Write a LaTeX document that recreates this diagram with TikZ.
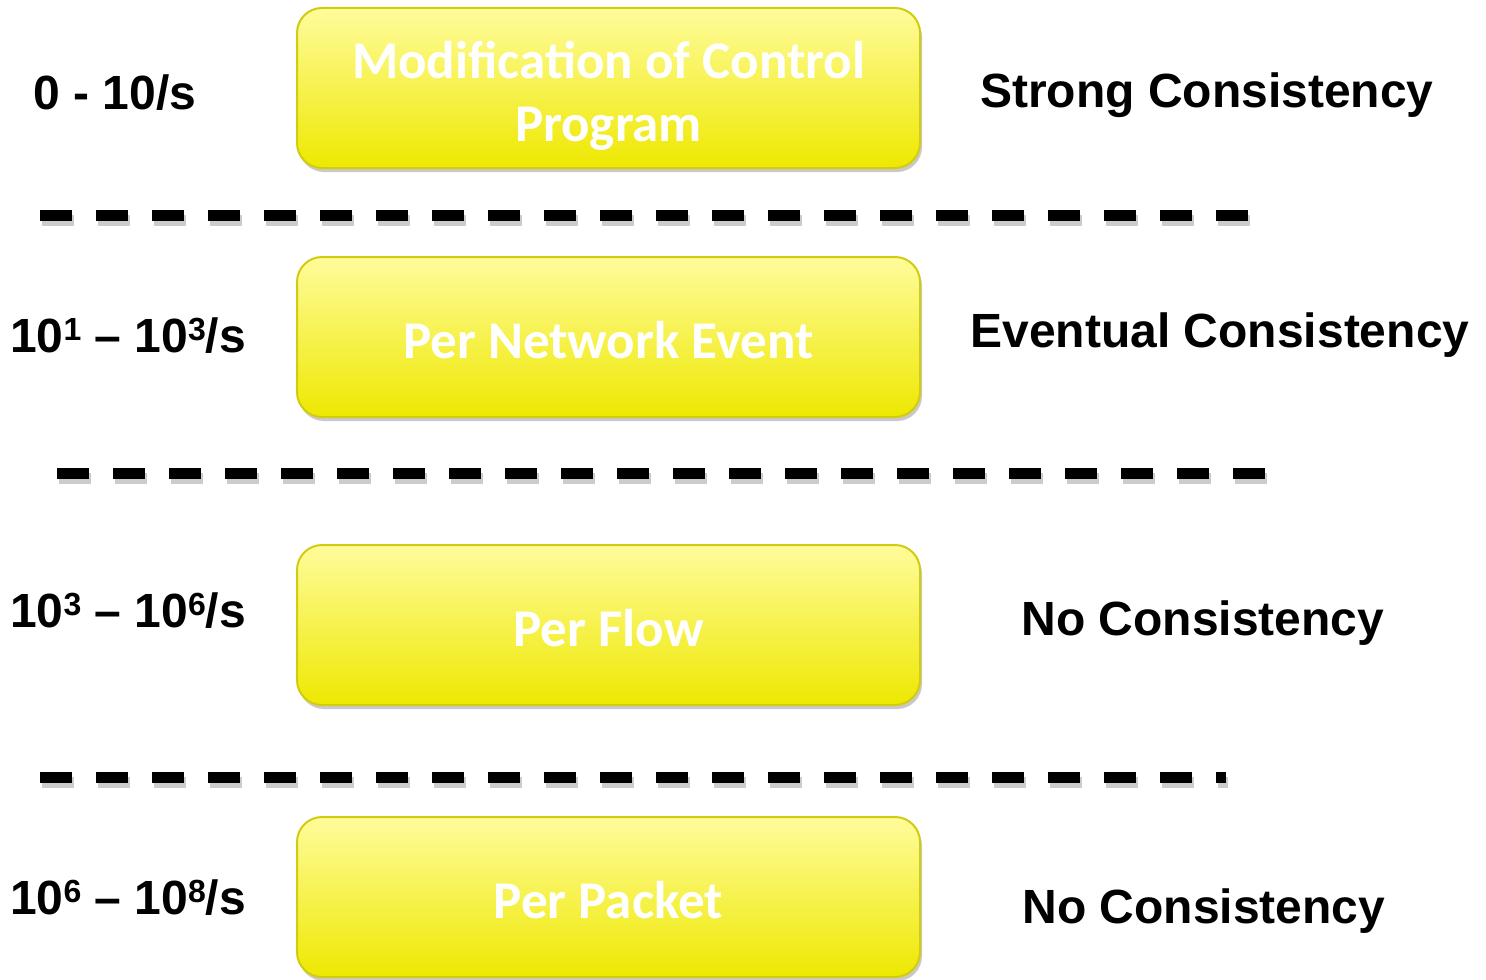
\documentclass[tikz,border=0pt]{standalone}
\usepackage{fontspec}
\setmainfont{Liberation Sans}
\newfontfamily\boxfont{Carlito}
\usetikzlibrary{shadows}
\definecolor{boxtop}{HTML}{FFFC9C}
\definecolor{boxbot}{HTML}{EEE800}
\definecolor{boxedge}{HTML}{D2CC10}
\newcommand\supx[1]{\raisebox{6pt}{\fontsize{16}{16}\selectfont #1}}
\tikzset{
  ybox/.style={rounded corners=12.5pt, minimum width=311.5pt, minimum height=80pt,
    top color=boxtop, bottom color=boxbot, draw=boxedge, line width=1pt,
    drop shadow={shadow xshift=1pt, shadow yshift=-2pt, opacity=0.35, fill=black!60},
    inner sep=0pt},
  btext/.style={text=white, font=\boxfont\bfseries\fontsize{26.5}{31.5}\selectfont, align=center, inner sep=0pt},
  lbl/.style={font=\bfseries\fontsize{24}{28}\selectfont, inner sep=0pt},
  sep/.style={line width=5.5pt, dash pattern=on 16pt off 12pt},
  sepshadow/.style={line width=5.5pt, dash pattern=on 16pt off 12pt, black, opacity=0.2}
}
\begin{document}
\begin{tikzpicture}[x=0.5pt,y=-0.5pt]
\useasboundingbox (0,0) rectangle (1486,979);
\fill[white] (0,0) rectangle (1486,979);

% boxes
\node[ybox] (b1) at (608.5,88) {};
\node[ybox] (b2) at (608.5,337) {};
\node[ybox] (b3) at (608.5,625) {};
\node[ybox] (b4) at (608.5,897) {};
\node[btext] (t1) at ([yshift=-4pt]b1.center) {Modification of Control\\Program};
\node[btext] (t2) at ([yshift=-1.5pt]b2.center) {Per Network Event};
\node[btext] (t3) at ([yshift=-1.5pt]b3.center) {Per Flow};
\node[btext] (t4) at ([yshift=-1.5pt]b4.center) {Per Packet};

% left labels
\node[lbl] (l1) at (115,93) {0 - 10/s};
\node[lbl] (l2) at (128,336) {10\supx{1} -- 10\supx{3}/s};
\node[lbl] (l3) at (128,611) {10\supx{3} -- 10\supx{6}/s};
\node[lbl] (l4) at (128,898) {10\supx{6} -- 10\supx{8}/s};

% right labels
\node[lbl] (r1) at (1207,95) {Strong Consistency};
\node[lbl] (r2) at (1220,335) {Eventual Consistency};
\node[lbl] (r3) at (1203,623) {No Consistency};
\node[lbl] (r4) at (1204,911) {No Consistency};

% separators
\coordinate (s1a) at (40,215);  \coordinate (s1b) at (1250,215);
\coordinate (s2a) at (57,473);  \coordinate (s2b) at (1265,473);
\coordinate (s3a) at (40,777);  \coordinate (s3b) at (1226,777);
\foreach \a/\b in {s1a/s1b,s2a/s2b,s3a/s3b}{
  \draw[sepshadow] ([shift={(2,5)}]\a) -- ([shift={(2,5)}]\b);
  \draw[sep] (\a) -- (\b);
}
\end{tikzpicture}
\end{document}
